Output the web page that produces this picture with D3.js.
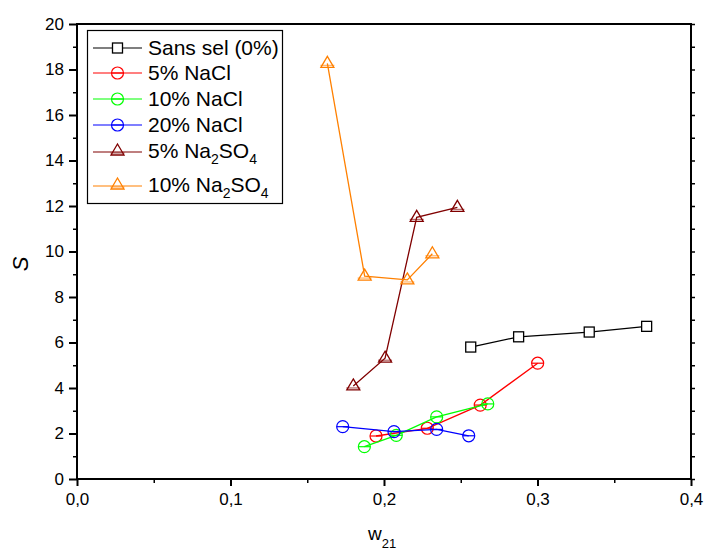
<!DOCTYPE html>
<html>
<head>
<meta charset="utf-8">
<script src="https://cdn.jsdelivr.net/npm/d3@7"></script>
<style>
body{margin:0;background:#fff;}
svg{display:block;font-family:"Liberation Sans",Arial,sans-serif;}
</style>
</head>
<body>
<svg id="chart" width="705" height="551"></svg>
<script>
// ---- data ----
const seriesNames = ["Sans sel (0%)", "5% NaCl", "10% NaCl", "20% NaCl", "5% Na2SO4", "10% Na2SO4"];
const seriesColors = ["#000000", "#FF0000", "#00FF00", "#0000FF", "#800000", "#FF8000"];
const seriesMarkers = ["square", "circle", "circle", "circle", "triangle", "triangle"];
const sansSelX = [0.2565, 0.2877, 0.3337, 0.3711];
const sansSelY = [5.80, 6.25, 6.46, 6.71];
const nacl5X = [0.1948, 0.2282, 0.2627, 0.3001];
const nacl5Y = [1.89, 2.23, 3.25, 5.09];
const nacl10X = [0.1872, 0.2080, 0.2343, 0.2676];
const nacl10Y = [1.42, 1.92, 2.73, 3.30];
const nacl20X = [0.1731, 0.2065, 0.2343, 0.2552];
const nacl20Y = [2.30, 2.08, 2.18, 1.90];
const na2so45X = [0.1800, 0.2007, 0.2213, 0.2478];
const na2so45Y = [4.09, 5.31, 11.50, 11.94];
const na2so410X = [0.1631, 0.1874, 0.2152, 0.2315];
const na2so410Y = [18.27, 8.92, 8.75, 9.90];
const xTicks = [0, 0.1, 0.2, 0.3, 0.4];
const xTickLabels = ["0,0", "0,1", "0,2", "0,3", "0,4"];
const yTicks = [0, 2, 4, 6, 8, 10, 12, 14, 16, 18, 20];

const seriesX = [sansSelX, nacl5X, nacl10X, nacl20X, na2so45X, na2so410X];
const seriesY = [sansSelY, nacl5Y, nacl10Y, nacl20Y, na2so45Y, na2so410Y];

// ---- layout ----
const L = 77, R = 691, T = 24, B = 479;
const svg = d3.select("#chart");
const x = d3.scaleLinear().domain([0, 0.4]).range([L, R]);
const y = d3.scaleLinear().domain([0, 20]).range([B, T]);

// frame lines (top, right)
svg.append("line").attr("x1", L).attr("x2", R).attr("y1", T).attr("y2", T)
  .attr("stroke", "#000").attr("stroke-width", 2);
svg.append("line").attr("x1", R).attr("x2", R).attr("y1", T - 1).attr("y2", B + 1)
  .attr("stroke", "#000").attr("stroke-width", 2);

// right axis small ticks
const yMinorAll = d3.range(0, 21, 1);
svg.append("g").attr("transform", `translate(${R},0)`)
  .call(d3.axisRight(y).tickValues(yMinorAll).tickSize(4).tickFormat(""))
  .call(g => g.select(".domain").remove())
  .call(g => g.selectAll("line").attr("stroke", "#000").attr("stroke-width", 1.5));

// bottom axis
const xAxisG = svg.append("g").attr("transform", `translate(0,${B})`);
xAxisG.call(d3.axisBottom(x).tickValues([0.05, 0.15, 0.25, 0.35]).tickSize(4).tickFormat(""))
  .call(g => g.select(".domain").remove())
  .call(g => g.selectAll("line").attr("stroke", "#000").attr("stroke-width", 1.5));
const xMajor = svg.append("g").attr("transform", `translate(0,${B})`)
  .call(d3.axisBottom(x).tickValues(xTicks).tickSize(7).tickPadding(7)
    .tickFormat((d, i) => xTickLabels[i]));
xMajor.select(".domain").attr("d", `M${L - 1},0H${R + 1}`).attr("stroke", "#000").attr("stroke-width", 2);
xMajor.selectAll("line").attr("stroke", "#000").attr("stroke-width", 2);
xMajor.selectAll("text").attr("font-size", 17).attr("fill", "#000")
  .attr("font-family", "Liberation Sans, Arial, sans-serif");

// left axis
svg.append("g").attr("transform", `translate(${L},0)`)
  .call(d3.axisLeft(y).tickValues(d3.range(1, 20, 2)).tickSize(4).tickFormat(""))
  .call(g => g.select(".domain").remove())
  .call(g => g.selectAll("line").attr("stroke", "#000").attr("stroke-width", 1.5));
const yMajor = svg.append("g").attr("transform", `translate(${L},0)`)
  .call(d3.axisLeft(y).tickValues(yTicks).tickSize(8).tickPadding(5).tickFormat(d3.format("d")));
yMajor.select(".domain").attr("d", `M0,${B + 1}V${T - 1}`).attr("stroke", "#000").attr("stroke-width", 2);
yMajor.selectAll("line").attr("stroke", "#000").attr("stroke-width", 2);
yMajor.selectAll("text").attr("font-size", 17).attr("fill", "#000")
  .attr("font-family", "Liberation Sans, Arial, sans-serif");

// axis titles
const xt = svg.append("text").attr("x", 368).attr("y", 540).attr("font-size", 19).attr("fill", "#000");
xt.append("tspan").text("w");
xt.append("tspan").attr("font-size", 13).attr("dy", 8).text("21");
svg.append("text").attr("transform", "translate(28,264) rotate(-90)")
  .attr("text-anchor", "middle").attr("font-size", 22).attr("font-style", "italic")
  .attr("fill", "#000").text("S");

// marker drawing
function drawMarker(g, type, cx, cy, color) {
  if (type === "square") {
    g.append("rect").attr("x", cx - 5).attr("y", cy - 5).attr("width", 10).attr("height", 10)
      .attr("fill", "#fff").attr("stroke", color).attr("stroke-width", 1.3);
  } else if (type === "circle") {
    g.append("circle").attr("cx", cx).attr("cy", cy).attr("r", 6)
      .attr("fill", "none").attr("stroke", color).attr("stroke-width", 1.2);
    g.append("line").attr("x1", cx - 6).attr("x2", cx + 6).attr("y1", cy).attr("y2", cy)
      .attr("stroke", color).attr("stroke-width", 1.2);
  } else {
    g.append("path").attr("d", `M${cx},${cy - 7}L${cx + 6.5},${cy + 4}L${cx - 6.5},${cy + 4}Z`)
      .attr("fill", "none").attr("stroke", color).attr("stroke-width", 1.3);
    g.append("line").attr("x1", cx - 7).attr("x2", cx + 7).attr("y1", cy + 2).attr("y2", cy + 2)
      .attr("stroke", color).attr("stroke-width", 1.2).attr("stroke-opacity", 0.6);
  }
}

// series
const line = d3.line().x(d => x(d[0])).y(d => y(d[1]));
seriesNames.forEach((name, i) => {
  const pts = seriesX[i].map((v, j) => [v, seriesY[i][j]]);
  const g = svg.append("g");
  g.append("path").datum(pts).attr("d", line).attr("fill", "none")
    .attr("stroke", seriesColors[i]).attr("stroke-width", 1.3);
  pts.forEach(p => drawMarker(g, seriesMarkers[i], x(p[0]), y(p[1]), seriesColors[i]));
});

// legend
const leg = svg.append("g");
leg.append("rect").attr("x", 87.5).attr("y", 30.5).attr("width", 195).attr("height", 173)
  .attr("fill", "#fff").attr("stroke", "#000").attr("stroke-width", 1.2);
const rowY = [48, 73, 99, 125, 151, 185];
seriesNames.forEach((name, i) => {
  const cy = rowY[i];
  leg.append("line").attr("x1", 93).attr("x2", 142).attr("y1", cy + (seriesMarkers[i] === "triangle" ? 1 : 0))
    .attr("y2", cy + (seriesMarkers[i] === "triangle" ? 1 : 0))
    .attr("stroke", seriesColors[i]).attr("stroke-width", 1.2);
  drawMarker(leg, seriesMarkers[i], 117.5, cy, seriesColors[i]);
  const t = leg.append("text").attr("x", 148).attr("y", cy + 7).attr("font-size", 21).attr("fill", "#000");
  const m = name.match(/^(.*Na)2(SO)4$/);
  if (m) {
    t.append("tspan").text(m[1]);
    t.append("tspan").attr("font-size", 14).attr("dy", 6).text("2");
    t.append("tspan").attr("dy", -6).text(m[2]);
    t.append("tspan").attr("font-size", 14).attr("dy", 6).text("4");
  } else {
    t.text(name);
  }
});
</script>
</body>
</html>
